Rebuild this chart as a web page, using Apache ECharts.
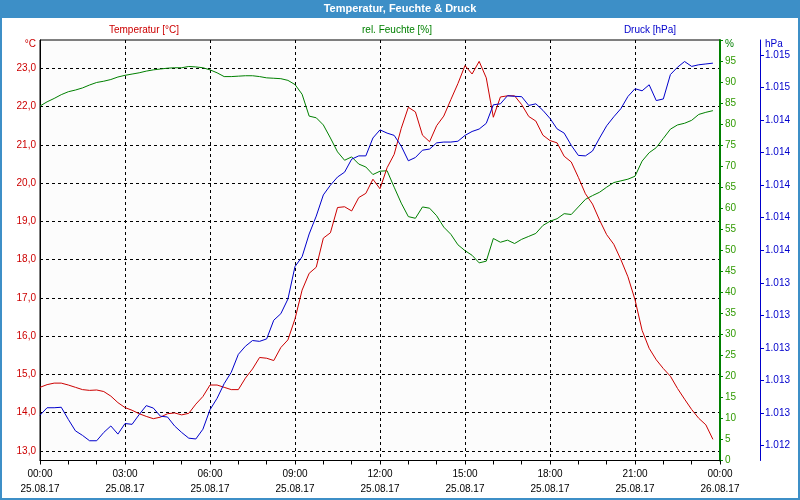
<!DOCTYPE html>
<html><head><meta charset="utf-8">
<script src="https://cdn.jsdelivr.net/npm/echarts@6/dist/echarts.min.js"></script>
<style>html,body{margin:0;padding:0;background:#fff}#c{width:800px;height:500px}</style>
</head><body><div id="c"></div>
<script>
// Quarter-hour readings, 25.08.17 00:00 ... 23:45
const temperature = [
14.66,14.73,14.77,14.77,14.72,14.66,14.60,14.58,14.59,14.55,14.43,14.26,
14.13,14.06,13.97,13.90,13.84,13.88,13.97,13.99,13.94,13.98,14.22,14.42,
14.72,14.72,14.66,14.60,14.60,14.90,15.14,15.44,15.42,15.36,15.70,15.90,
16.45,17.20,17.64,17.80,18.56,18.70,19.36,19.38,19.27,19.62,19.73,20.10,
19.85,20.40,20.75,21.43,21.98,21.86,21.25,21.08,21.50,21.75,22.18,22.60,
23.07,22.85,23.18,22.75,21.72,22.25,22.28,22.28,22.05,21.74,21.62,21.25,
21.11,21.05,20.70,20.55,20.15,19.72,19.45,19.03,18.65,18.40,18.00,17.55,
16.95,16.15,15.68,15.38,15.15,14.95,14.63,14.35,14.08,13.85,13.68,13.30
];
const humidity = [
84.3,85.3,86.1,87.0,87.7,88.1,88.6,89.3,89.9,90.2,90.6,91.2,
91.6,91.9,92.2,92.6,92.9,93.1,93.3,93.4,93.4,93.7,93.6,93.4,
92.9,92.2,91.3,91.3,91.4,91.5,91.5,91.3,91.0,90.9,90.8,90.4,
89.4,87.1,81.9,81.5,79.8,76.7,73.4,71.4,72.2,70.5,69.8,68.0,
68.8,68.9,65.0,61.2,58.0,57.6,60.3,60.0,58.2,55.5,53.8,51.3,
49.9,48.8,47.0,47.4,52.8,51.9,52.4,51.6,52.6,53.3,54.0,55.9,
56.9,57.5,58.7,58.5,60.3,62.1,63.0,63.8,65.0,66.1,66.5,66.9,
67.6,71.2,73.2,74.4,76.6,78.8,79.8,80.2,80.9,82.3,82.8,83.2
];
const pressure = [
1012.586,1012.632,1012.632,1012.635,1012.560,1012.490,1012.462,1012.429,1012.429,1012.480,1012.520,1012.470,
1012.535,1012.530,1012.590,1012.645,1012.630,1012.580,1012.575,1012.520,1012.480,1012.445,1012.440,1012.500,
1012.620,1012.690,1012.780,1012.850,1012.960,1013.010,1013.045,1013.040,1013.055,1013.170,1013.210,1013.300,
1013.500,1013.560,1013.700,1013.810,1013.940,1014.000,1014.050,1014.080,1014.160,1014.180,1014.180,1014.290,
1014.340,1014.320,1014.306,1014.240,1014.150,1014.170,1014.215,1014.222,1014.260,1014.265,1014.265,1014.270,
1014.306,1014.330,1014.345,1014.380,1014.494,1014.500,1014.550,1014.546,1014.544,1014.490,1014.500,1014.460,
1014.410,1014.346,1014.320,1014.245,1014.183,1014.180,1014.210,1014.290,1014.365,1014.420,1014.470,1014.545,
1014.593,1014.580,1014.617,1014.520,1014.530,1014.680,1014.725,1014.760,1014.730,1014.740,1014.745,1014.750
];
const hours = temperature.map((_, i) => i * 0.25);
const xTickDates = ['25.08.17','25.08.17','25.08.17','25.08.17','25.08.17','25.08.17','25.08.17','25.08.17','26.08.17'];
const tempTicks = [13,14,15,16,17,18,19,20,21,22,23];
const pressureTicks = [1012.4,1012.6,1012.8,1013.0,1013.2,1013.4,1013.6,1013.8,1014.0,1014.2,1014.4,1014.6,1014.8];

const FONT = 'Liberation Sans';
const RED = '#cc0000', GREEN = '#008000', BLUE = '#0000cc';
const chart = echarts.init(document.getElementById('c'), null, {renderer: 'canvas'});
const pad2 = n => (n < 10 ? '0' : '') + n;
chart.setOption({
  animation: false,
  backgroundColor: '#ffffff',
  textStyle: {fontFamily: FONT},
  grid: {left: 40, right: 80, top: 40, bottom: 39.5, show: true, backgroundColor: '#fcfcfc', borderColor: '#000', borderWidth: 1},
  xAxis: {
    type: 'value', min: 0, max: 24, interval: 3,
    axisLine: {show: true, lineStyle: {color: '#000', width: 1}},
    axisTick: {show: true, length: 4, lineStyle: {color: '#000'}},
    minorTick: {show: true, splitNumber: 3, length: 4, lineStyle: {color: '#000'}},
    splitLine: {show: true, lineStyle: {color: '#000', type: [3, 3], width: 1}},
    axisLabel: {
      color: '#000', fontSize: 10, fontFamily: FONT, lineHeight: 15, margin: 6,
      formatter: v => pad2(Math.round(v) % 24) + ':00\n' + xTickDates[Math.round(v / 3)]
    }
  },
  yAxis: [
    {
      type: 'value', position: 'left', min: 12.747, max: 23.739,
      axisLine: {show: true, lineStyle: {color: '#000'}},
      axisTick: {show: false, customValues: tempTicks},
      axisLabel: {customValues: tempTicks, color: RED, fontSize: 10, fontFamily: FONT, margin: 4,
        formatter: v => v.toFixed(1).replace('.', ',')},
      splitLine: {show: true, lineStyle: {color: '#000', type: [3, 3], width: 1}}
    },
    {
      type: 'value', position: 'right', min: 0, max: 100, interval: 5,
      axisLine: {show: true, lineStyle: {color: GREEN, width: 2}},
      axisTick: {show: true, length: 3, lineStyle: {color: GREEN}},
      axisLabel: {color: '#2f9a00', fontSize: 10, fontFamily: FONT, margin: 5,
        formatter: v => (v >= 100 ? '' : String(v))},
      splitLine: {show: false}
    },
    {
      type: 'value', position: 'right', offset: 40, min: 1012.3077, max: 1014.8923,
      axisLine: {show: true, lineStyle: {color: BLUE}},
      axisTick: {show: true, length: 4, customValues: pressureTicks, lineStyle: {color: BLUE}},
      axisLabel: {customValues: pressureTicks, color: BLUE, fontSize: 10, fontFamily: FONT, margin: 5,
        formatter: v => { const s = String(Math.round(v)); return s.slice(0, 1) + '.' + s.slice(1); }},
      splitLine: {show: false}
    }
  ],
  series: [
    {name: 'Temperatur [°C]', type: 'line', yAxisIndex: 0, showSymbol: false, symbol: 'none',
      lineStyle: {color: RED, width: 1}, itemStyle: {color: RED}, z: 3,
      data: hours.map((h, i) => [h, temperature[i]])},
    {name: 'rel. Feuchte [%]', type: 'line', yAxisIndex: 1, showSymbol: false, symbol: 'none',
      lineStyle: {color: GREEN, width: 1}, itemStyle: {color: GREEN}, z: 2,
      data: hours.map((h, i) => [h, humidity[i]])},
    {name: 'Druck [hPa]', type: 'line', yAxisIndex: 2, showSymbol: false, symbol: 'none',
      lineStyle: {color: BLUE, width: 1}, itemStyle: {color: BLUE}, z: 4,
      data: hours.map((h, i) => [h, pressure[i]])}
  ],
  graphic: [
    {type: 'rect', shape: {x: 0, y: 0, width: 800, height: 18}, style: {fill: '#3d8fc7'}, z: 0},
    {type: 'rect', shape: {x: 1, y: 1, width: 798, height: 498}, style: {fill: null, stroke: '#3d8fc7', lineWidth: 2}, z: 10},
    {type: 'text', x: 400, y: 9, style: {text: 'Temperatur, Feuchte & Druck', fill: '#fff', font: 'bold 11px ' + FONT, textAlign: 'center', textVerticalAlign: 'middle'}, z: 11},
    {type: 'text', x: 144, y: 30, style: {text: 'Temperatur [°C]', fill: RED, font: '10px ' + FONT, textAlign: 'center', textVerticalAlign: 'middle'}},
    {type: 'text', x: 397, y: 30, style: {text: 'rel. Feuchte [%]', fill: GREEN, font: '10px ' + FONT, textAlign: 'center', textVerticalAlign: 'middle'}},
    {type: 'text', x: 650, y: 30, style: {text: 'Druck [hPa]', fill: BLUE, font: '10px ' + FONT, textAlign: 'center', textVerticalAlign: 'middle'}},
    {type: 'text', x: 36, y: 44, style: {text: '°C', fill: RED, font: '10px ' + FONT, textAlign: 'right', textVerticalAlign: 'middle'}},
    {type: 'text', x: 725, y: 44, style: {text: '%', fill: GREEN, font: '10px ' + FONT, textAlign: 'left', textVerticalAlign: 'middle'}},
    {type: 'text', x: 765, y: 44, style: {text: 'hPa', fill: BLUE, font: '10px ' + FONT, textAlign: 'left', textVerticalAlign: 'middle'}}
  ]
});
</script></body></html>
